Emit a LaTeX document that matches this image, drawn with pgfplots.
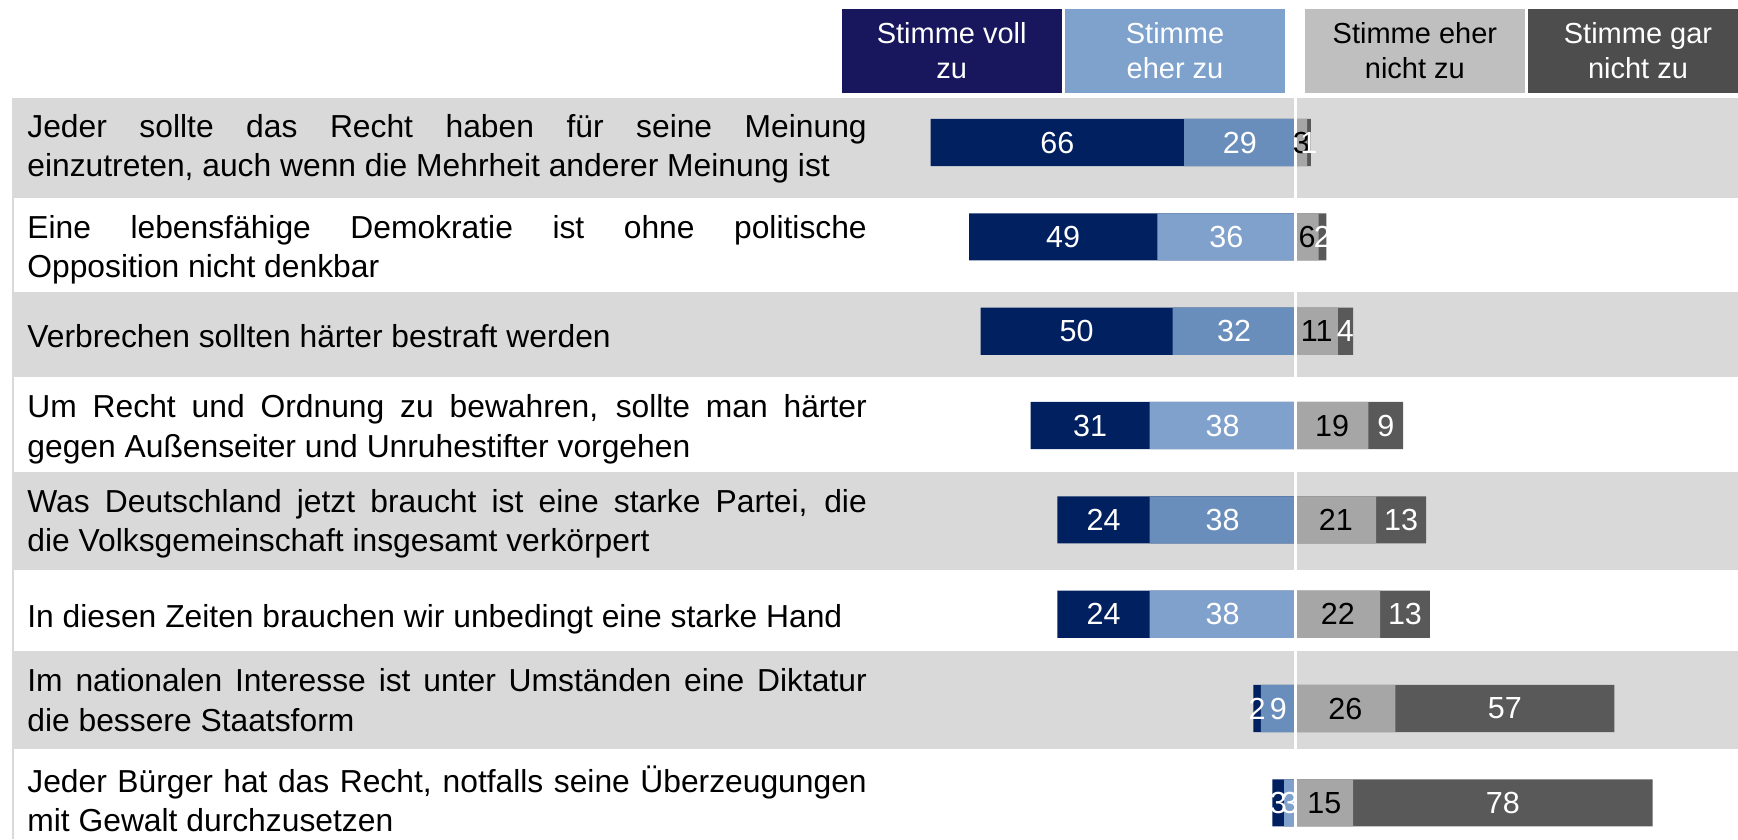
\documentclass[border=0pt]{standalone}
\usepackage{fontspec}
\setmainfont{Liberation Sans}
\usepackage{pgfplots}
\usepackage{pgfplotstable}
\pgfplotsset{compat=1.18}
\tolerance=10000
\hyphenpenalty=10000
\exhyphenpenalty=10000
\adjdemerits=0

\definecolor{navy}{HTML}{002060}
\definecolor{blueA}{HTML}{6A8EBB}
\definecolor{blueB}{HTML}{7FA1CC}
\definecolor{greyA}{HTML}{A6A6A6}
\definecolor{greyD}{HTML}{595959}
\definecolor{band}{HTML}{D9D9D9}
\definecolor{legA}{HTML}{18175E}
\definecolor{legB}{HTML}{7FA2CD}
\definecolor{legC}{HTML}{BFBFBF}
\definecolor{legD}{HTML}{4D4D4D}

% vz = Stimme voll zu, ez = Stimme eher zu, enz = Stimme eher nicht zu, gnz = Stimme gar nicht zu
% statements on grey background
\pgfplotstableread{
row vz ez enz gnz
1 66 29 3 1
3 50 32 11 4
5 24 38 21 13
7 2 9 26 57
}\greyrows
% statements on white background
\pgfplotstableread{
row vz ez enz gnz
2 49 36 6 2
4 31 38 19 9
6 24 38 22 13
8 3 3 15 78
}\whiterows

\newcommand\rowfont{\fontsize{15.9}{19.65}\selectfont}
\newcommand\valfont{\fontsize{15.25}{18}\selectfont}
\newcommand\legfont{\fontsize{14.5}{17.35}\selectfont}

\pgfplotsset{
  seg/.style={xbar, bar shift=0pt, bar width=0.5, draw=none, fill=#1},
  lab/.style={only marks, mark=*, mark size=0pt,
    mark options={draw=none, fill=none},
    point meta=explicit symbolic, nodes near coords,
    every node near coord/.append style={anchor=center, inner sep=0pt,
      text=#1, font=\valfont}},
}

\begin{document}
\begin{tikzpicture}
\begin{axis}[
  width=869pt, height=419.5pt, scale only axis,
  xmin=-337.37, xmax=115.23, ymin=-0.5107, ymax=8.3837,
  y dir=reverse, hide axis, clip=false,
]
\coordinate (BL) at (rel axis cs:0,0);
\coordinate (TR) at (rel axis cs:1,1);
% row backgrounds
\fill[band] (axis cs:-334.3,0.5230) rectangle (axis cs:115.23,1.5852);
\fill[band] (axis cs:-334.3,2.5817) rectangle (axis cs:115.23,3.4892);
\fill[band] (axis cs:-334.3,4.4899) rectangle (axis cs:115.23,5.5320);
\fill[band] (axis cs:-334.3,6.3907) rectangle (axis cs:115.23,7.4328);
\draw[band, line width=0.9pt] (axis cs:-334.0,0.5230) -- (axis cs:-334.0,8.3837);

% bars: agreement to the left, disagreement to the right
\addplot[seg=navy] table[x expr={-\thisrow{vz}-\thisrow{ez}}, y=row]{\greyrows};
\addplot[seg=blueA] table[x expr={-\thisrow{ez}}, y=row]{\greyrows};
\addplot[seg=greyD] table[x expr={\thisrow{enz}+\thisrow{gnz}}, y=row]{\greyrows};
\addplot[seg=greyA] table[x=enz, y=row]{\greyrows};
\addplot[seg=navy] table[x expr={-\thisrow{vz}-\thisrow{ez}}, y=row]{\whiterows};
\addplot[seg=blueB] table[x expr={-\thisrow{ez}}, y=row]{\whiterows};
\addplot[seg=greyD] table[x expr={\thisrow{enz}+\thisrow{gnz}}, y=row]{\whiterows};
\addplot[seg=greyA] table[x=enz, y=row]{\whiterows};

\draw[white, line width=1.65pt] (axis cs:0,0.5230) -- (axis cs:0,8.3837);

% value labels, centred in the segments
\addplot[lab=white] table[x expr={-\thisrow{ez}-0.5*\thisrow{vz}}, y=row, meta=vz]{\greyrows};
\addplot[lab=white] table[x expr={-0.5*\thisrow{ez}}, y=row, meta=ez]{\greyrows};
\addplot[lab=black] table[x expr={0.5*\thisrow{enz}}, y=row, meta=enz]{\greyrows};
\addplot[lab=white] table[x expr={\thisrow{enz}+0.5*\thisrow{gnz}}, y=row, meta=gnz]{\greyrows};
\addplot[lab=white] table[x expr={-\thisrow{ez}-0.5*\thisrow{vz}}, y=row, meta=vz]{\whiterows};
\addplot[lab=white] table[x expr={-0.5*\thisrow{ez}}, y=row, meta=ez]{\whiterows};
\addplot[lab=black] table[x expr={0.5*\thisrow{enz}}, y=row, meta=enz]{\whiterows};
\addplot[lab=white] table[x expr={\thisrow{enz}+0.5*\thisrow{gnz}}, y=row, meta=gnz]{\whiterows};

% statements
\tikzset{stmt/.style={anchor=west, text width=419.7pt, align=justify, inner sep=0pt, font=\rowfont}}
\node[stmt] at (axis cs:-330.34,1.07) {Jeder sollte das Recht haben für seine Meinung\linebreak einzutreten, auch wenn die Mehrheit anderer Meinung ist};
\node[stmt] at (axis cs:-330.34,2.135) {Eine lebensfähige Demokratie ist ohne politische\linebreak Opposition nicht denkbar};
\node[stmt] at (axis cs:-330.34,3.055) {Verbrechen sollten härter bestraft werden};
\node[stmt] at (axis cs:-330.34,4.04) {Um Recht und Ordnung zu bewahren, sollte man härter\linebreak gegen Außenseiter und Unruhestifter vorgehen};
\node[stmt] at (axis cs:-330.34,5.04) {Was Deutschland jetzt braucht ist eine starke Partei, die\linebreak die Volksgemeinschaft insgesamt verkörpert};
\node[stmt] at (axis cs:-330.34,6.05) {In diesen Zeiten brauchen wir unbedingt eine starke Hand};
\node[stmt] at (axis cs:-330.34,6.9122) {Im nationalen Interesse ist unter Umständen eine Diktatur\linebreak die bessere Staatsform};
\node[stmt] at (axis cs:-330.34,7.955) {Jeder Bürger hat das Recht, notfalls seine Überzeugungen\linebreak mit Gewalt durchzusetzen};

% legend header
\tikzset{leg/.style={minimum width=110pt, minimum height=41.85pt, inner sep=0pt, align=center, font=\legfont}}
\node[leg, fill=legA, text=white] at (axis cs:-89.53,0.0284) {Stimme voll\\zu};
\node[leg, fill=legB, text=white] at (axis cs:-31.38,0.0284) {Stimme\\eher zu};
\node[leg, fill=legC, text=black] at (axis cs:31.08,0.0284) {Stimme eher\\nicht zu};
\node[leg, fill=legD, text=white] at (axis cs:89.19,0.0284) {Stimme gar\\nicht zu};
\end{axis}
\pgfresetboundingbox
\path (BL) rectangle (TR);
\end{tikzpicture}
\end{document}
